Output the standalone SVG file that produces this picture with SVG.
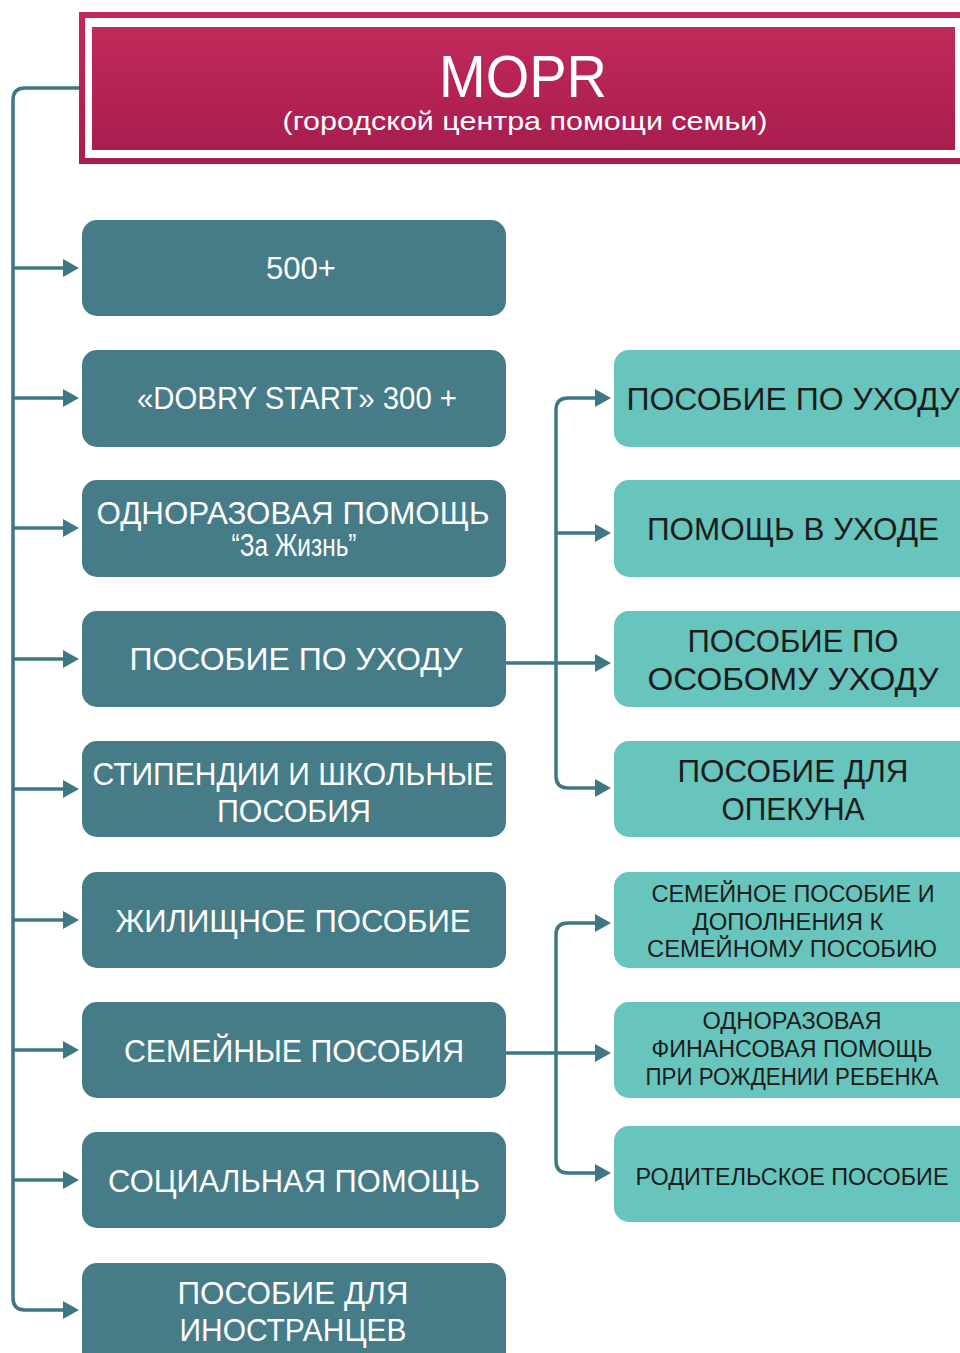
<svg xmlns="http://www.w3.org/2000/svg" width="960" height="1353" viewBox="0 0 960 1353">
<defs>
<linearGradient id="crim" x1="0" y1="0" x2="0" y2="1">
<stop offset="0" stop-color="#c12a59"/>
<stop offset="1" stop-color="#a81d50"/>
</linearGradient>
<marker id="arr" viewBox="0 0 16 18" markerWidth="16" markerHeight="18" refX="7" refY="9" orient="auto" markerUnits="userSpaceOnUse">
<path d="M0,0 L16,9 L0,18 z" fill="#3f7884"/>
</marker>
</defs>
<style>
.lb{fill:#457c88}
.rb{fill:#67c5be}
.lt{fill:#ffffff;font-family:"Liberation Sans",Arial,sans-serif;font-size:31px;text-anchor:middle}
.rt{fill:#1c1c1c;font-family:"Liberation Sans",Arial,sans-serif;font-size:31px;text-anchor:middle}
.rs{fill:#1c1c1c;font-family:"Liberation Sans",Arial,sans-serif;font-size:23px;text-anchor:middle}
.con{fill:none;stroke:#3f7884;stroke-width:3.5;marker-end:url(#arr)}
</style>
<rect width="960" height="1353" fill="#ffffff"/>

<g id="header">
<rect x="79" y="12" width="900" height="152" fill="url(#crim)"/>
<rect x="85" y="18" width="900" height="140" fill="#ffffff"/>
<rect x="92" y="27" width="863" height="123" fill="url(#crim)"/>
<text x="523" y="97" fill="#ffffff" font-family="Liberation Sans, Arial, sans-serif" font-size="60" text-anchor="middle" textLength="168" lengthAdjust="spacingAndGlyphs">MOPR</text>
<text x="525" y="130" fill="#ffffff" font-family="Liberation Sans, Arial, sans-serif" font-size="25" text-anchor="middle" textLength="485" lengthAdjust="spacingAndGlyphs">(городской центра помощи семьи)</text>
</g>

<g id="connectors">
<path class="con" d="M79,88 H25 Q13,88 13,100 V1298 Q13,1310 25,1310 H70"/>
<path class="con" d="M13,268 H70"/>
<path class="con" d="M13,398 H70"/>
<path class="con" d="M13,528 H70"/>
<path class="con" d="M13,659 H70"/>
<path class="con" d="M13,789 H70"/>
<path class="con" d="M13,920 H70"/>
<path class="con" d="M13,1050 H70"/>
<path class="con" d="M13,1180 H70"/>
<path class="con" d="M506,663 H602"/>
<path class="con" d="M556,533 V410 Q556,398 568,398 H602"/>
<path class="con" d="M556,533 V776 Q556,788 568,788 H602"/>
<path class="con" d="M556,533 H602"/>
<path class="con" d="M506,1053 H602"/>
<path class="con" d="M556,1053 V935 Q556,923 568,923 H602"/>
<path class="con" d="M556,1053 V1161 Q556,1173 568,1173 H602"/>
</g>

<g id="n500">
<rect class="lb" x="82" y="220" width="424" height="96" rx="15"/>
<text class="lt" x="301" y="279" textLength="70" lengthAdjust="spacingAndGlyphs">500+</text>
</g>
<g id="ndobry">
<rect class="lb" x="82" y="350" width="424" height="97" rx="15"/>
<text class="lt" x="297" y="409" font-size="30" textLength="320" lengthAdjust="spacingAndGlyphs">«DOBRY START» 300 +</text>
</g>
<g id="nodnor">
<rect class="lb" x="82" y="480" width="424" height="97" rx="15"/>
<text class="lt" x="293" y="524" font-size="30" textLength="393" lengthAdjust="spacingAndGlyphs">ОДНОРАЗОВАЯ ПОМОЩЬ</text>
<text class="lt" x="294" y="556" font-size="19" textLength="125" lengthAdjust="spacingAndGlyphs">“За Жизнь”</text>
</g>
<g id="nuhod">
<rect class="lb" x="82" y="611" width="424" height="96" rx="15"/>
<text class="lt" x="296" y="670" textLength="333" lengthAdjust="spacingAndGlyphs">ПОСОБИЕ ПО УХОДУ</text>
</g>
<g id="nstip">
<rect class="lb" x="82" y="741" width="424" height="96" rx="15"/>
<text class="lt" x="293" y="785" textLength="401" lengthAdjust="spacingAndGlyphs">СТИПЕНДИИ И ШКОЛЬНЫЕ</text>
<text class="lt" x="294" y="822" textLength="154" lengthAdjust="spacingAndGlyphs">ПОСОБИЯ</text>
</g>
<g id="nzhil">
<rect class="lb" x="82" y="872" width="424" height="96" rx="15"/>
<text class="lt" x="293" y="932" textLength="355" lengthAdjust="spacingAndGlyphs">ЖИЛИЩНОЕ ПОСОБИЕ</text>
</g>
<g id="nsem">
<rect class="lb" x="82" y="1002" width="424" height="96" rx="15"/>
<text class="lt" x="294" y="1062" textLength="340" lengthAdjust="spacingAndGlyphs">СЕМЕЙНЫЕ ПОСОБИЯ</text>
</g>
<g id="nsoc">
<rect class="lb" x="82" y="1132" width="424" height="96" rx="15"/>
<text class="lt" x="294" y="1192" textLength="372" lengthAdjust="spacingAndGlyphs">СОЦИАЛЬНАЯ ПОМОЩЬ</text>
</g>
<g id="ninostr">
<rect class="lb" x="82" y="1263" width="424" height="110" rx="15"/>
<text class="lt" x="293" y="1304" textLength="231" lengthAdjust="spacingAndGlyphs">ПОСОБИЕ ДЛЯ</text>
<text class="lt" x="293" y="1341" textLength="227" lengthAdjust="spacingAndGlyphs">ИНОСТРАНЦЕВ</text>
</g>

<g id="r1">
<rect class="rb" x="614" y="350" width="370" height="97" rx="15"/>
<text class="rt" x="793" y="410" textLength="333" lengthAdjust="spacingAndGlyphs">ПОСОБИЕ ПО УХОДУ</text>
</g>
<g id="r2">
<rect class="rb" x="614" y="480" width="370" height="97" rx="15"/>
<text class="rt" x="793" y="540" textLength="292" lengthAdjust="spacingAndGlyphs">ПОМОЩЬ В УХОДЕ</text>
</g>
<g id="r3">
<rect class="rb" x="614" y="611" width="370" height="96" rx="15"/>
<text class="rt" x="793" y="652" textLength="211" lengthAdjust="spacingAndGlyphs">ПОСОБИЕ ПО</text>
<text class="rt" x="793" y="690" textLength="291" lengthAdjust="spacingAndGlyphs">ОСОБОМУ УХОДУ</text>
</g>
<g id="r4">
<rect class="rb" x="614" y="741" width="370" height="96" rx="15"/>
<text class="rt" x="793" y="782" textLength="231" lengthAdjust="spacingAndGlyphs">ПОСОБИЕ ДЛЯ</text>
<text class="rt" x="793" y="820" textLength="143" lengthAdjust="spacingAndGlyphs">ОПЕКУНА</text>
</g>
<g id="r5">
<rect class="rb" x="614" y="872" width="370" height="96" rx="15"/>
<text class="rs" x="793" y="902" textLength="283" lengthAdjust="spacingAndGlyphs">СЕМЕЙНОЕ ПОСОБИЕ И</text>
<text class="rs" x="788" y="930" textLength="191" lengthAdjust="spacingAndGlyphs">ДОПОЛНЕНИЯ К</text>
<text class="rs" x="792" y="957" textLength="290" lengthAdjust="spacingAndGlyphs">СЕМЕЙНОМУ ПОСОБИЮ</text>
</g>
<g id="r6">
<rect class="rb" x="614" y="1002" width="370" height="96" rx="15"/>
<text class="rs" x="792" y="1029" textLength="179" lengthAdjust="spacingAndGlyphs">ОДНОРАЗОВАЯ</text>
<text class="rs" x="792" y="1057" textLength="281" lengthAdjust="spacingAndGlyphs">ФИНАНСОВАЯ ПОМОЩЬ</text>
<text class="rs" x="792" y="1085" textLength="293" lengthAdjust="spacingAndGlyphs">ПРИ РОЖДЕНИИ РЕБЕНКА</text>
</g>
<g id="r7">
<rect class="rb" x="614" y="1126" width="370" height="96" rx="15"/>
<text class="rs" x="792" y="1185" textLength="313" lengthAdjust="spacingAndGlyphs">РОДИТЕЛЬСКОЕ ПОСОБИЕ</text>
</g>
</svg>
